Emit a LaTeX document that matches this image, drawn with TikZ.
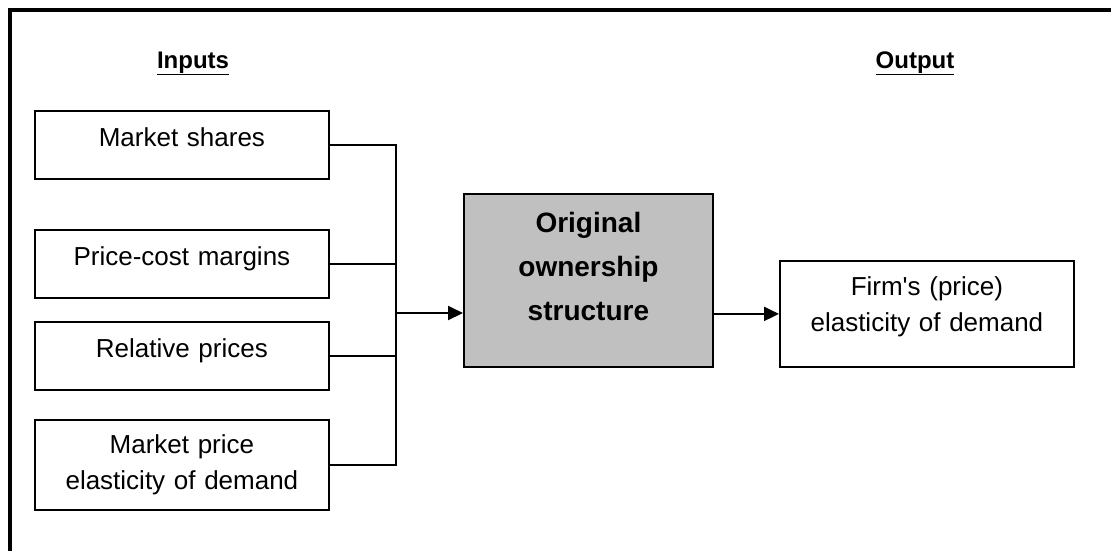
\documentclass[tikz,border=0pt]{standalone}
\usepackage{fontspec}
\setmainfont{Liberation Sans}
\usetikzlibrary{arrows.meta, positioning}
\definecolor{boxgrey}{RGB}{192, 192, 192}

\begin{document}
\begin{tikzpicture}[x=1pt, y=-1pt,
  inbox/.style={draw, line width=1.8pt, anchor=north west, text width=294pt, align=center, inner xsep=0pt, inner ysep=0pt, font=\fontsize{26}{36}\selectfont},
  onebox/.style={inbox, text height=36pt, text depth=32pt},
  hdr/.style={anchor=base, font=\fontsize{24}{28}\selectfont\bfseries},
  link/.style={line width=2pt},
  arr/.style={link, -{Triangle[length=15pt, width=14pt]}}
]
  \useasboundingbox (0, 0) rectangle (1111, 550);
  \draw[line width=3.5pt] (10, 10) rectangle (1140, 580);

  \node[hdr] (inhdr) at (193, 68) {\underline{Inputs}};
  \node[hdr] (outhdr) at (915, 68) {\underline{Output}};

  \node[onebox] (ms) at (34, 110) {Market shares};
  \node[onebox] (pc) at (34, 229) {Price-cost margins};
  \node[onebox] (rp) at (34, 321) {Relative prices};
  \node[inbox, text height=34pt, text depth=56pt] (mp) at (34, 419) {Market price\\elasticity of demand};

  \node[inbox, fill=boxgrey, text width=249pt, text height=39pt, text depth=134pt, font=\fontsize{28}{44}\selectfont\bfseries] (own) at (463, 193) {Original\\ownership\\structure};
  \node[inbox, text height=35pt, text depth=71pt] (firm) at (779, 260) {Firm\textquotesingle s (price)\\elasticity of demand};

  \coordinate (join) at (396, 313);
  \draw[link] (ms.east) -| (join);
  \draw[link] (mp.east) -| (join);
  \draw[link] (pc.east) -- (pc.east -| join);
  \draw[link] (rp.east) -- (rp.east -| join);
  \draw[arr] (join) -- (join -| own.west);
  \draw[arr] (own.east |- firm.west) -- (firm.west);
\end{tikzpicture}
\end{document}
